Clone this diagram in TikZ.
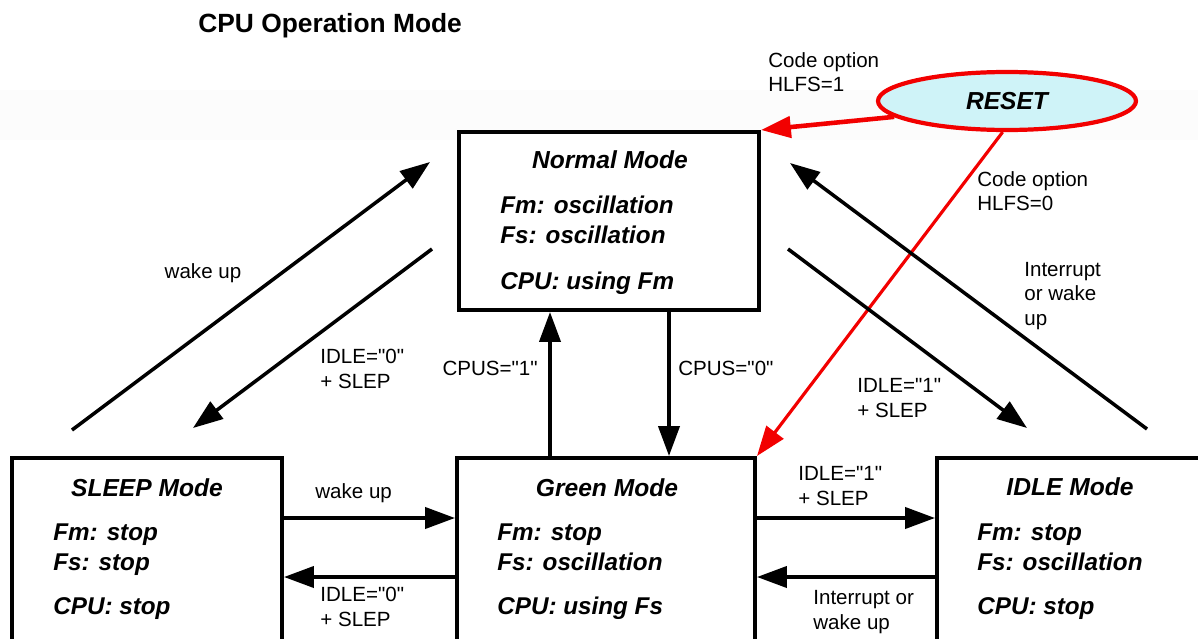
\documentclass[tikz,border=0pt]{standalone}
\usepackage{fontspec}
\setmainfont{Liberation Sans}[Ligatures=TeXOff]
\usetikzlibrary{arrows.meta,shapes.geometric}

\definecolor{resetfill}{HTML}{CFF3F8}
\definecolor{resetred}{HTML}{F20000}

\tikzset{
  modebox/.style={draw, line width=2.3pt, inner sep=0pt},
  modetitle/.style={font=\fontsize{14}{17}\selectfont\bfseries\itshape, inner sep=0pt},
  modetext/.style={font=\fontsize{13.8}{17}\selectfont\bfseries\itshape, align=left, anchor=west, inner sep=0pt},
  lbl/.style={font=\fontsize{11.7}{13.8}\selectfont, align=left, inner sep=0pt},
  trans/.style={-{Triangle[length=17pt,width=12pt]}, line width=2pt},
  resetarrow/.style={resetred, -{Triangle[length=17pt,width=12pt]}}
}

\begin{document}
\begin{tikzpicture}[x=0.02cm,y=-0.02cm]
  \clip (0,0) rectangle (1198,639);
  \fill[black!1] (0,90) rectangle (1198,140);

  % Title
  \node[font=\fontsize{15}{18}\selectfont\bfseries, anchor=base west, inner sep=0pt] (title) at (198,32) {CPU Operation Mode};

  % Mode boxes
  \node[modebox, minimum width=6cm, minimum height=3.56cm] (normal) at (609,221) {};
  \node[modebox, minimum width=5.4cm, minimum height=4.04cm] (sleep) at (147,559) {};
  \node[modebox, minimum width=5.96cm, minimum height=4.04cm] (green) at (606,559) {};
  \node[modebox, minimum width=5.46cm, minimum height=4.04cm] (idle) at (1073.5,559) {};

  % Box texts
  \node[modetitle] (normaltitle) at (610,160) {Normal Mode};
  \node[modetext] (normaltext) at (500,245) {Fm: oscillation\\Fs: oscillation\\[9pt]CPU: using Fm};
  \node[modetitle] (sleeptitle) at (147,488) {SLEEP Mode};
  \node[modetext] (sleeptext) at (53,572) {Fm: stop\\Fs: stop\\[8pt]CPU: stop};
  \node[modetitle] (greentitle) at (607,488) {Green Mode};
  \node[modetext] (greentext) at (497,572) {Fm: stop\\Fs: oscillation\\[8pt]CPU: using Fs};
  \node[modetitle] (idletitle) at (1070,487) {IDLE Mode};
  \node[modetext] (idletext) at (977,572) {Fm: stop\\Fs: oscillation\\[8pt]CPU: stop};

  % Reset
  \node[ellipse, draw=resetred, fill=resetfill, line width=2.4pt, inner sep=0pt,
        minimum width=5.16cm, minimum height=1.16cm,
        font=\fontsize{14}{17}\selectfont\bfseries\itshape] (reset) at (1007,101) {RESET};
  \draw[resetarrow, line width=2.6pt] (reset.188) -- (normal.north east);
  \draw[resetarrow, line width=1.8pt] (reset.262) -- (green.north east);
  \node[lbl, anchor=west] (hlfsone) at (768,72) {Code option\\HLFS=1};
  \node[lbl, anchor=west] (hlfszero) at (977,191) {Code option\\HLFS=0};

  % Free ends of the diagonal arrows
  \coordinate (wakefrom) at (72,430);
  \coordinate (waketo) at (430,162);
  \coordinate (sleepfrom) at (432,249);
  \coordinate (sleepto) at (193,428);
  \coordinate (idlefrom) at (788,249);
  \coordinate (idleto) at (1027,428);
  \coordinate (intfrom) at (1147,429);
  \coordinate (intto) at (790,163);
  \coordinate (rowup) at (0,518);
  \coordinate (rowdown) at (0,577);
  \coordinate (colup) at (550,0);
  \coordinate (coldown) at (669,0);

  % Transitions
  \draw[trans] (wakefrom) -- (waketo);
  \draw[trans] (sleepfrom) -- (sleepto);
  \draw[trans] (idlefrom) -- (idleto);
  \draw[trans] (intfrom) -- (intto);
  \draw[trans] (green.north -| colup) -- (normal.south -| colup);
  \draw[trans] (normal.south -| coldown) -- (green.north -| coldown);
  \draw[trans] (sleep.east |- rowup) -- (green.west |- rowup);
  \draw[trans] (green.west |- rowdown) -- (sleep.east |- rowdown);
  \draw[trans] (green.east |- rowup) -- (idle.west |- rowup);
  \draw[trans] (idle.west |- rowdown) -- (green.east |- rowdown);

  % Transition labels
  \node[lbl] (wakediag) at (203,273) {wake up};
  \node[lbl, anchor=west] (sleepdiag) at (320,369) {IDLE="0"\\+ SLEP};
  \node[lbl, anchor=east] (cpusone) at (538,368) {CPUS="1"};
  \node[lbl, anchor=west] (cpuszero) at (678,368) {CPUS="0"};
  \node[lbl, anchor=west] (idlediag) at (857,398) {IDLE="1"\\+ SLEP};
  \node[lbl, anchor=west] (intdiag) at (1024,296) {Interrupt\\or wake\\up};
  \node[lbl, anchor=west] (wakeflat) at (315,493) {wake up};
  \node[lbl, anchor=west] (sleepflat) at (320,607) {IDLE="0"\\+ SLEP};
  \node[lbl, anchor=west] (idleflat) at (798,486) {IDLE="1"\\+ SLEP};
  \node[lbl, anchor=west] (intflat) at (813,612) {Interrupt or\\wake up};
\end{tikzpicture}
\end{document}
